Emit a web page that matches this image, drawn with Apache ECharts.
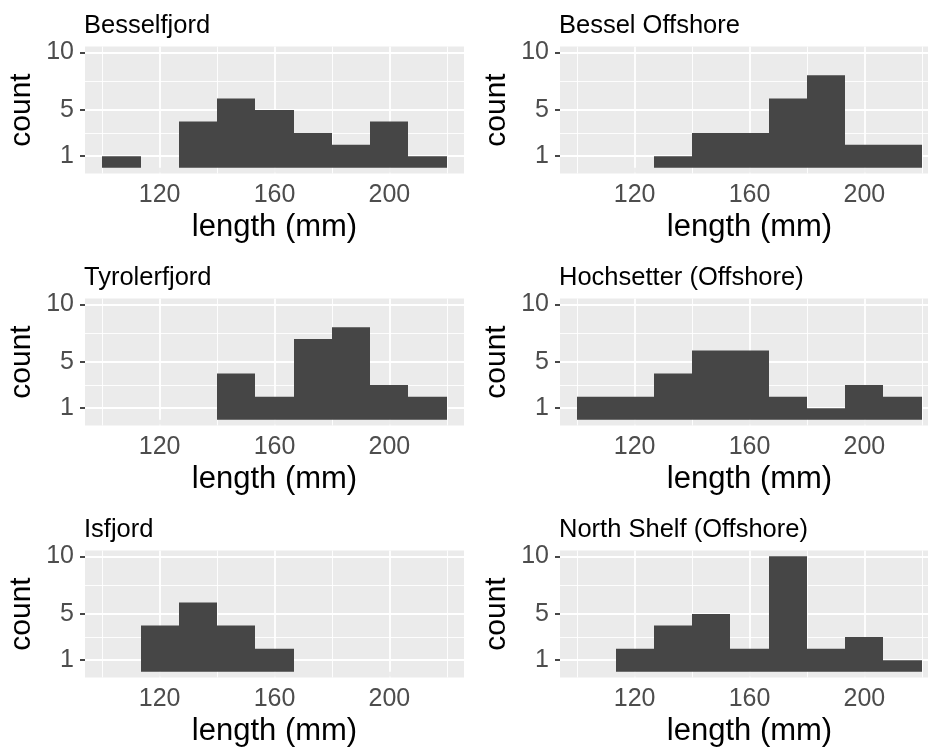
<!DOCTYPE html>
<html><head><meta charset="utf-8">
<script src="https://cdn.jsdelivr.net/npm/echarts@6/dist/echarts.min.js"></script>
<style>html,body{margin:0;padding:0;background:#fff}#c{width:928px;height:747px}</style>
</head><body><div id="c"></div>
<script>
// ---- data ----
const binEdges = [100, 113.33, 126.67, 140, 153.33, 166.67, 180, 193.33, 206.67, 220];
const panelTitles = ["Besselfjord", "Bessel Offshore", "Tyrolerfjord", "Hochsetter (Offshore)", "Isfjord", "North Shelf (Offshore)"];
const besselfjord    = [1, 0, 4, 6, 5, 3, 2, 4, 1];
const besselOffshore = [0, 0, 1, 3, 3, 6, 8, 2, 2];
const tyrolerfjord   = [0, 0, 0, 4, 2, 7, 8, 3, 2];
const hochsetter     = [2, 2, 4, 6, 6, 2, 1, 3, 2];
const isfjord        = [0, 4, 6, 4, 2, 0, 0, 0, 0];
const northShelf     = [0, 2, 4, 5, 2, 10, 2, 3, 1];
const xTickLabels = [120, 160, 200];
const xMinorBreaks = [100, 140, 180, 220];
const yTickLabels = [1, 5, 10];
const yMinorBreaks = [3, 7.5];
const xName = "length (mm)";
const yName = "count";

// ---- layout / style ----
const counts = [besselfjord, besselOffshore, tyrolerfjord, hochsetter, isfjord, northShelf];
const FONT = "'Liberation Sans', Arial, Helvetica, sans-serif";
const colLeft = [85, 560], panelW = 379, rowTop = [46.5, 298.5, 550.5], panelH = 127;
const BAR = '#464646', BG = '#EBEBEB';

const grid = [], xAxis = [], yAxis = [], series = [], title = [];
for (let i = 0; i < 6; i++) {
  const col = i % 2, row = Math.floor(i / 2);
  grid.push({left: colLeft[col], top: rowTop[row], width: panelW, height: panelH,
    show: true, backgroundColor: BG, borderWidth: 0, containLabel: false, outerBoundsMode: 'none'});
  title.push({text: panelTitles[i], left: colLeft[col] - 1, top: rowTop[row] - 34, padding: 0,
    textStyle: {fontSize: 25.5, fontWeight: 'normal', color: '#000', fontFamily: FONT}});
  xAxis.push({gridIndex: i, type: 'value', min: 94, max: 226,
    axisLine: {show: false},
    axisTick: {show: true, customValues: xTickLabels, length: 5, lineStyle: {color: '#333', width: 1.8}},
    axisLabel: {customValues: xTickLabels, color: '#4D4D4D', fontSize: 25, fontFamily: FONT, margin: 9},
    splitLine: {show: false},
    name: xName, nameLocation: 'middle', nameGap: 38,
    nameTextStyle: {color: '#000', fontSize: 31, fontFamily: FONT}});
  yAxis.push({gridIndex: i, type: 'value', min: -0.5, max: 10.5,
    axisLine: {show: false},
    axisTick: {show: true, customValues: yTickLabels, length: 5, lineStyle: {color: '#333', width: 1.8}},
    axisLabel: {customValues: yTickLabels, color: '#4D4D4D', fontSize: 25, fontFamily: FONT, margin: 11},
    splitLine: {show: false},
    name: yName, nameLocation: 'middle', nameGap: 48, nameRotate: 90,
    nameTextStyle: {color: '#000', fontSize: 30, fontFamily: FONT}});
  const gl = [];
  xTickLabels.forEach(v => gl.push({xAxis: v, lineStyle: {width: 1.8}}));
  xMinorBreaks.forEach(v => gl.push({xAxis: v, lineStyle: {width: 0.9}}));
  yTickLabels.forEach(v => gl.push({yAxis: v, lineStyle: {width: 1.8}}));
  yMinorBreaks.forEach(v => gl.push({yAxis: v, lineStyle: {width: 0.9}}));
  series.push({type: 'custom', xAxisIndex: i, yAxisIndex: i, z: 2, silent: true, animation: false,
    data: counts[i].map((c, k) => [binEdges[k], binEdges[k + 1], c]),
    encode: {x: [0, 1], y: 2},
    renderItem: (params, api) => {
      const c = api.value(2);
      if (!c) return null;
      const p0 = api.coord([api.value(0), c]);
      const p1 = api.coord([api.value(1), 0]);
      const x0 = Math.round(p0[0]), x1 = Math.round(p1[0]);
      return {type: 'rect', shape: {x: x0, y: p0[1], width: x1 - x0, height: p1[1] - p0[1]},
        style: {fill: BAR}};
    },
    markLine: {silent: true, animation: false, z: 1, symbol: ['none', 'none'], label: {show: false},
      lineStyle: {color: '#fff', type: 'solid', width: 1}, emphasis: {disabled: true}, data: gl}
  });
}
const chart = echarts.init(document.getElementById('c'), null, {renderer: 'canvas'});
chart.setOption({animation: false, title, grid, xAxis, yAxis, series});
</script></body></html>
